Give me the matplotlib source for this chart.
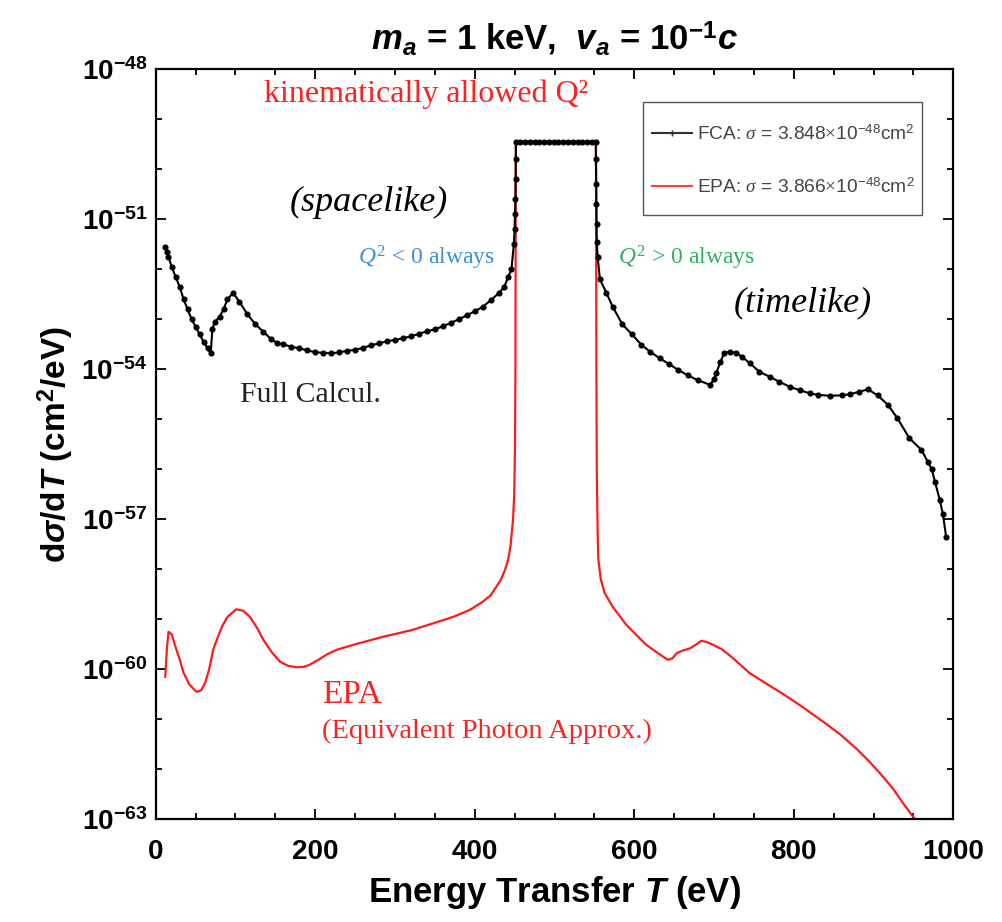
import numpy as np
import matplotlib
matplotlib.use("Agg")
import matplotlib.pyplot as plt
from matplotlib.lines import Line2D
from matplotlib.patches import Rectangle
from matplotlib.ticker import FixedLocator, FuncFormatter, NullFormatter, MultipleLocator

plt.rcParams['font.family'] = ['Liberation Sans', 'DejaVu Sans']
plt.rcParams['mathtext.fontset'] = 'custom'
plt.rcParams['mathtext.rm'] = 'Liberation Serif'
plt.rcParams['mathtext.it'] = 'Liberation Serif:italic'
plt.rcParams['mathtext.bf'] = 'Liberation Sans:bold'
plt.rcParams['mathtext.bfit'] = 'Liberation Sans:italic:bold'
plt.rcParams['mathtext.sf'] = 'Liberation Sans'

# ---------------- data (log10 of dsigma/dT in cm^2/eV) ----------------
fca_T = [12, 14, 16, 20, 25, 30, 35, 40, 45, 50, 55, 60, 65, 69,
         71, 74, 80, 85, 90, 97, 105, 115, 125, 135, 145, 152, 160, 170,
         180, 190, 200, 210, 220, 230, 240, 250, 260, 270, 280, 290, 300,
         310, 320, 330, 340, 350, 360, 370, 380, 390, 400, 410, 420, 430,
         437, 442, 446, 449, 450, 450.5, 451, 451.3, 451.5, 451.7,
         457, 463, 469, 475, 481, 487, 493, 499, 505, 511, 517, 523, 529,
         535, 541, 547, 551.7,
         552, 552.3, 552.5, 552.8, 553, 554, 557, 565, 573, 585, 597, 609,
         620, 632, 644, 655, 667, 680, 695, 700, 703, 708, 713, 720, 728,
         735, 745, 757, 770, 782, 795, 808, 820, 830, 845, 860, 870, 882,
         893, 905, 918, 930, 945, 960, 968, 973, 977, 983, 987, 991]
fca_logy = [-51.55, -51.65, -51.75, -51.95, -52.15, -52.35, -52.6, -52.8,
            -53.0, -53.15, -53.3, -53.45, -53.58, -53.68,
            -53.2, -53.05, -52.95, -52.8, -52.6, -52.47, -52.65, -52.9,
            -53.1, -53.25, -53.4, -53.47, -53.5, -53.55, -53.58, -53.62,
            -53.66, -53.67, -53.68, -53.66, -53.63, -53.61, -53.57, -53.52,
            -53.48, -53.44, -53.41, -53.38, -53.34, -53.29, -53.24, -53.2,
            -53.14, -53.07, -53.0, -52.92, -52.84, -52.75, -52.62, -52.48,
            -52.35, -52.15, -52.0, -51.5, -51.2, -50.9, -50.6, -50.2, -49.8,
            -49.45,
            -49.45, -49.45, -49.45, -49.45, -49.45, -49.45, -49.45, -49.45,
            -49.45, -49.45, -49.45, -49.45, -49.45, -49.45, -49.45, -49.45,
            -49.45,
            -49.8, -50.3, -50.7, -51.1, -51.45, -51.75, -52.2, -52.47, -52.75,
            -53.1, -53.3, -53.51, -53.65, -53.78, -53.9, -54.01, -54.12,
            -54.22, -54.31, -54.2, -54.07, -53.85, -53.67, -53.65, -53.67,
            -53.75, -53.88, -54.05, -54.15, -54.25, -54.35, -54.42, -54.48,
            -54.51, -54.53, -54.52, -54.5, -54.45, -54.4, -54.52, -54.71,
            -54.98, -55.38, -55.61, -55.85, -56.0, -56.25, -56.61, -56.9,
            -57.35]

epa_T = [12, 14, 16, 20, 24, 30, 35, 42, 51, 57, 62, 67, 72, 78, 83, 90,
         101, 110, 118, 127, 135, 145, 156, 166, 177, 186, 193, 205, 215,
         227, 250, 285, 320, 348, 375, 394, 410, 420, 427, 433, 438, 442,
         445, 448, 449.5, 450.5, 451, 451.5, 552, 552.5, 553, 554, 555,
         558, 563, 573, 590, 615, 630, 642, 648, 653, 660, 670, 678, 684,
         690, 699, 710, 724, 745, 770, 795, 815, 837, 858, 878, 895, 912,
         925, 937, 945, 952, 956]
epa_logy = [-60.15, -59.6, -59.25, -59.3, -59.51, -59.8, -60.07, -60.3,
            -60.45, -60.42, -60.27, -60.0, -59.61, -59.35, -59.15, -58.95,
            -58.8, -58.83, -58.95, -59.17, -59.41, -59.65, -59.85, -59.93,
            -59.96, -59.95, -59.91, -59.8, -59.7, -59.61, -59.5, -59.35,
            -59.22, -59.08, -58.94, -58.81, -58.65, -58.52, -58.35, -58.2,
            -58.01, -57.8, -57.51, -57.0, -56.5, -55.5, -54.0, -49.45,
            -49.45, -54.0, -56.0, -57.2, -57.81, -58.2, -58.48, -58.75,
            -59.11, -59.51, -59.68, -59.81, -59.78, -59.68, -59.63, -59.58,
            -59.5, -59.43, -59.45, -59.51, -59.6, -59.78, -60.08, -60.33,
            -60.58, -60.8, -61.05, -61.3, -61.58, -61.85, -62.15, -62.4,
            -62.68, -62.85, -63.0, -63.1]

x_ticks = [0, 200, 400, 600, 800, 1000]
y_major_exp = [-48, -51, -54, -57, -60, -63]
fca_label = r'FCA: $\sigma$ = 3.848$\times$10$^{\mathsf{-48}}$cm$^{\mathsf{2}}$'
epa_label = r'EPA: $\sigma$ = 3.866$\times$10$^{\mathsf{-48}}$cm$^{\mathsf{2}}$'

# ---------------- figure ----------------
fig = plt.figure(figsize=(10.02, 9.22), dpi=100)
ax = fig.add_axes([0.1554, 0.1114, 0.7960, 0.8134])
ax.set_yscale('log')

fca_y = 10.0 ** np.array(fca_logy)
epa_y = 10.0 ** np.array(epa_logy)

ax.plot(epa_T, epa_y, color='#ff1a1a', lw=1.6, zorder=2)
ax.plot(fca_T, fca_y, color='black', lw=1.5, marker='o', ms=3.4,
        zorder=3)

ax.set_xlim(0, 1000)
ax.set_ylim(1e-63, 1e-48)

ax.xaxis.set_major_locator(FixedLocator(x_ticks))
ax.xaxis.set_minor_locator(MultipleLocator(50))
ax.yaxis.set_major_locator(FixedLocator([10.0 ** e for e in y_major_exp]))
ax.yaxis.set_minor_locator(FixedLocator([10.0 ** e for e in range(-63, -47)]))
ax.yaxis.set_minor_formatter(NullFormatter())

def yfmt(v, pos):
    e = int(round(np.log10(v)))
    return r'$\mathbf{10^{%d}}$' % e

ax.yaxis.set_major_formatter(FuncFormatter(yfmt))
ax.tick_params(which='both', direction='in', top=True, right=True,
               width=1.3)
ax.tick_params(which='major', length=7, labelsize=20)
ax.tick_params(axis='y', which='major', pad=6)
ax.tick_params(axis='x', which='major', pad=14)
ax.tick_params(which='minor', length=4)
for lab in ax.get_xticklabels():
    lab.set_fontweight('bold')
for s in ax.spines.values():
    s.set_linewidth(1.6)

ax.set_xlabel(r'Energy Transfer $\boldsymbol{T}$ (eV)', fontsize=25,
              fontweight='bold', labelpad=7)
ax.set_ylabel(r'd$\boldsymbol{\sigma}$/d$\boldsymbol{T}$ (cm$^{\mathbf{2}}$/eV)',
              fontsize=24, fontweight='bold', labelpad=4)
ax.set_title(r'$\boldsymbol{m}_{\boldsymbol{a}}$ = 1 keV,  '
             r'$\boldsymbol{v}_{\boldsymbol{a}}$ = 10$^{\mathbf{-1}}$$\boldsymbol{c}$',
             fontsize=25, fontweight='bold', pad=14)

serif = 'Liberation Serif'
ax.text(339, 10 ** -48.5, 'kinematically allowed Q\u00b2', color='#ff2020',
        family=serif, fontsize=23, ha='center', va='center')
ax.text(267, 10 ** -50.67, '(spacelike)', color='black', family=serif,
        style='italic', fontsize=26, ha='center', va='center')
ax.text(339, 10 ** -51.77, r'$Q^2$ < 0 always', color='#3d8fd8',
        family=serif, fontsize=17, ha='center', va='center')
ax.text(665, 10 ** -51.77, r'$Q^2$ > 0 always', color='#2fb060',
        family=serif, fontsize=17, ha='center', va='center')
ax.text(811, 10 ** -52.68, '(timelike)', color='black', family=serif,
        style='italic', fontsize=26, ha='center', va='center')
ax.text(194, 10 ** -54.51, 'Full Calcul.', color='#222222', family=serif,
        fontsize=21.5, ha='center', va='center')
ax.text(208, 10 ** -60.51, 'EPA', color='#ff2020', family=serif,
        fontsize=24, ha='left', va='center')
ax.text(208, 10 ** -61.25, '(Equivalent Photon Approx.)', color='#ff2020',
        family=serif, fontsize=20.5, ha='left', va='center')

# legend: frame drawn as a patch, entries placed frameless inside it
ax.add_patch(Rectangle((0.6106, 0.8057), 0.3498, 0.1511,
                       transform=ax.transAxes, facecolor='white',
                       edgecolor='#555555', lw=1.0, zorder=4))
handles = [Line2D([], [], color='#333333', lw=1.5, marker='+', ms=5),
           Line2D([], [], color='#ff4040', lw=1.5)]
leg = ax.legend(handles, [fca_label, epa_label], loc='center left',
                bbox_to_anchor=(0.6222, 0.8784), fontsize=13.8,
                frameon=False, labelspacing=1.75, borderpad=0,
                handlelength=2.1, handletextpad=0.25, borderaxespad=0)
leg.set_zorder(5)
for t in leg.get_texts():
    t.set_color('#444444')

fig.savefig('out.png', dpi=100)
